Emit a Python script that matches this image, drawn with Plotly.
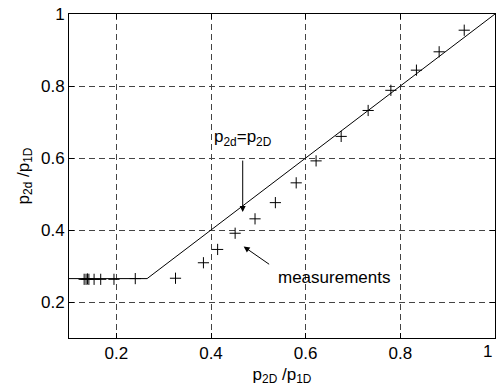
import plotly.graph_objects as go

# measured points (p2D/p1D, p2d/p1D)
x_meas = [0.132, 0.136, 0.139, 0.142, 0.153, 0.167, 0.195, 0.240, 0.325,
          0.384, 0.414, 0.451, 0.493, 0.536, 0.580, 0.622, 0.675, 0.732,
          0.780, 0.834, 0.882, 0.935]
y_meas = [0.263, 0.263, 0.264, 0.263, 0.263, 0.263, 0.263, 0.265, 0.266,
          0.309, 0.346, 0.391, 0.431, 0.476, 0.531, 0.592, 0.660, 0.732,
          0.788, 0.844, 0.895, 0.955]

# model line p2d = max(p2D, floor)
x_model = [0.1, 0.265, 1.0]
y_model = [0.265, 0.265, 1.0]

tick_vals = [0.2, 0.4, 0.6, 0.8, 1.0]
tick_text = ["0.2", "0.4", "0.6", "0.8", "1"]
# last x tick label is placed by hand so it stays inside the window
x_tick_text = tick_text[:-1] + [""]

FONT = "Liberation Sans, Arial, sans-serif"
FS = 17

fig = go.Figure()
fig.add_trace(go.Scatter(x=x_model, y=y_model, mode="lines",
                         line=dict(color="black", width=1), showlegend=False,
                         cliponaxis=False))
fig.add_trace(go.Scatter(x=x_meas, y=y_meas, mode="markers",
                         marker=dict(symbol="cross-thin", size=8,
                                     line=dict(color="black", width=1)),
                         showlegend=False))

axis_common = dict(
    showline=True, linecolor="black", linewidth=1, mirror="ticks",
    ticks="inside", ticklen=5, tickcolor="black",
    showgrid=True, gridcolor="#444444", gridwidth=1, griddash="6px,4px",
    zeroline=False, tickvals=tick_vals,
    tickfont=dict(family=FONT, size=FS, color="black"),
)

fig.update_xaxes(range=[0.1, 1.0], ticktext=x_tick_text,
                 title=dict(text="p<sub>2D</sub> /p<sub>1D</sub>",
                            font=dict(family=FONT, size=FS, color="black"),
                            standoff=5),
                 **axis_common)
fig.update_yaxes(range=[0.1, 1.0], ticktext=tick_text,
                 title=dict(text="p<sub>2d</sub> /p<sub>1D</sub>",
                            font=dict(family=FONT, size=FS, color="black"),
                            standoff=7),
                 **axis_common)

fig.add_annotation(x=tick_vals[-1], y=0, xref="x", yref="paper",
                   text=tick_text[-1], showarrow=False,
                   xanchor="right", yanchor="top", xshift=-1, yshift=-2,
                   font=dict(family=FONT, size=FS, color="black"))

fig.add_annotation(x=0.467, y=0.45, ax=0.467, ay=0.597, xref="x", yref="y",
                   axref="x", ayref="y", text="", showarrow=True,
                   arrowhead=2, arrowsize=1.2, arrowwidth=1, arrowcolor="black")
fig.add_annotation(x=0.467, y=0.655, xref="x", yref="y",
                   text="p<sub>2d</sub>=p<sub>2D</sub>", showarrow=False,
                   font=dict(family=FONT, size=FS, color="black"))
fig.add_annotation(x=0.469, y=0.354, ax=0.526, ay=0.302, xref="x", yref="y",
                   axref="x", ayref="y", text="", showarrow=True,
                   arrowhead=2, arrowsize=1.2, arrowwidth=1, arrowcolor="black")
fig.add_annotation(x=0.659, y=0.267, xref="x", yref="y",
                   text="measurements", showarrow=False,
                   font=dict(family=FONT, size=FS, color="black"))

fig.update_layout(width=497, height=392,
                  margin=dict(l=69, r=2, t=14, b=54),
                  paper_bgcolor="white", plot_bgcolor="white",
                  font=dict(family=FONT, size=FS, color="black"))

# remove the default page margin so the figure fills the window exactly
fig.write_html("out.html",
               config={"displayModeBar": False},
               post_script="document.body.style.margin='0';"
                           "document.body.style.overflow='hidden';")
